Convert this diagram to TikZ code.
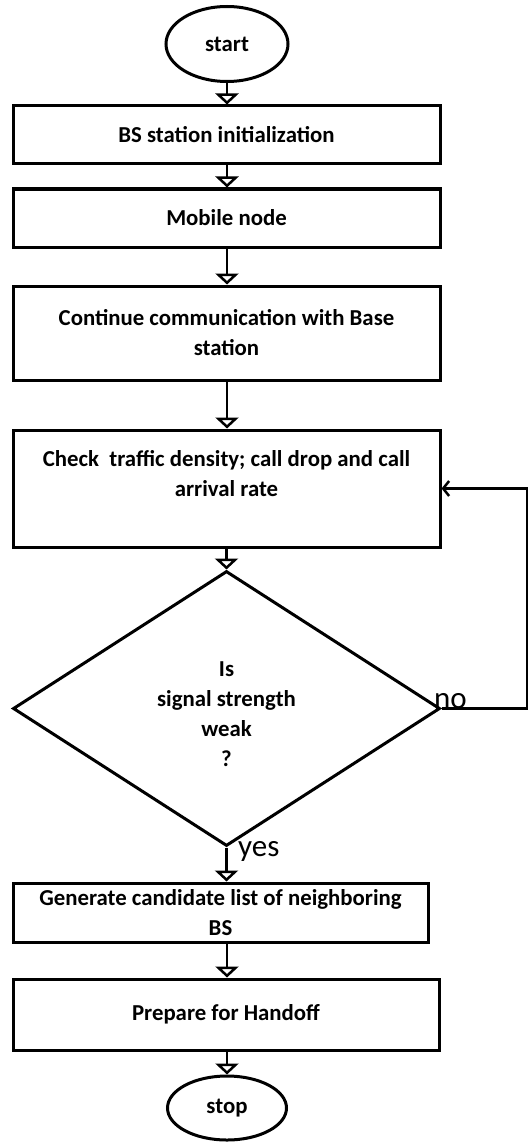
\documentclass[tikz,border=0pt]{standalone}
\usepackage{fontspec}
\setmainfont{Carlito}
\usetikzlibrary{shapes.geometric,arrows.meta}
\begin{document}
\begin{tikzpicture}[x=1pt,y=-1pt,
  txtfont/.style={font=\fontsize{22.8}{30}\selectfont\bfseries},
  box/.style={draw,line width=3pt,rectangle,minimum width=427pt,inner sep=0pt,align=center,txtfont},
  term/.style={draw,line width=3pt,ellipse,inner sep=0pt,txtfont},
  dec/.style={draw,line width=3pt,diamond,inner sep=0pt,align=center,minimum width=427pt,minimum height=275pt,txtfont},
  flow/.style={line width=2.5pt,-{Triangle[open,length=11pt,width=23pt,line width=2.5pt]}},
  back/.style={line width=2.5pt,-{Straight Barb[length=6pt,width=15pt,line width=2.5pt]}},
  lbl/.style={font=\fontsize{31}{34}\selectfont,inner sep=0pt,anchor=base west}]
\useasboundingbox (0,0) rectangle (529,1142);

\node[term,minimum width=122pt,minimum height=75pt] (start) at (227,44) {start};
\node[box,minimum height=58pt] (b1) at (226.5,135) {BS station initialization};
\node[box,minimum height=58pt] (b2) at (226.5,218) {Mobile node};
\node[box,minimum height=94pt] (b3) at (226.5,333) {Continue communication with Base\\station};
\node[box,minimum height=117pt] (b4) at (226.5,488.5) {Check\ \ traffic density; call drop and call\\arrival rate\\\mbox{}};
\node[dec] (d) at (226.5,708.5) {\rule{0pt}{26pt}Is\\signal strength\\weak\\?};
\node[box,minimum width=415pt,minimum height=59pt] (b5) at (220.5,912.5) {Generate candidate list of neighboring\\BS};
\node[box,minimum width=426pt,minimum height=71pt] (b6) at (226,1014.5) {Prepare for Handoff};
\node[term,minimum width=119pt,minimum height=64pt] (stop) at (227,1108) {stop};

\coordinate (c) at (527,708.5);

\draw[flow] (start.south) -- (start.south |- b1.north);
\draw[flow] (b1.south -| start) -- (b2.north -| start);
\draw[flow] (b2.south -| start) -- (b3.north -| start);
\draw[flow] (b3.south -| start) -- (b4.north -| start);
\draw[flow] (b4.south -| d.north) -- (d.north);
\draw[flow] (d.south) -- (b5.north -| d.south);
\draw[flow] (b5.south -| start) -- (b6.north -| start);
\draw[flow] (b6.south -| start) -- (stop.north);
\draw[back] (d.east) -- (c) |- (b4.east);

\node[lbl] (no) at (434,708) {no};
\node[lbl] (yes) at (238,856) {yes};
\end{tikzpicture}
\end{document}
